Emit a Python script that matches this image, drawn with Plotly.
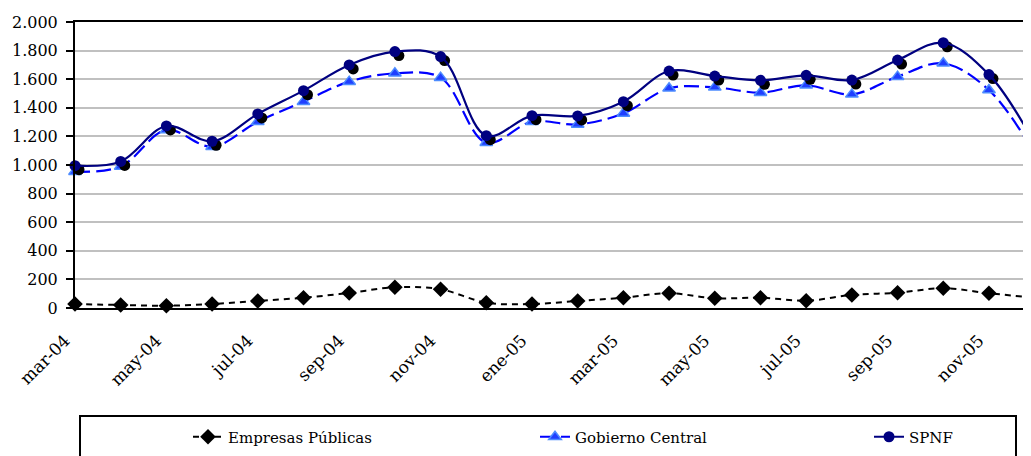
import plotly.graph_objects as go

months = ["mar-04", "abr-04", "may-04", "jun-04", "jul-04", "ago-04", "sep-04",
          "oct-04", "nov-04", "dic-04", "ene-05", "feb-05", "mar-05", "abr-05",
          "may-05", "jun-05", "jul-05", "ago-05", "sep-05", "oct-05", "nov-05", "dic-05"]

empresas_publicas = [28, 21, 16, 28, 49, 72, 105, 145, 131, 37, 28, 49, 72, 103,
                     68, 72, 51, 91, 107, 138, 103, 72]
gobierno_central = [953, 990, 1245, 1128, 1303, 1443, 1583, 1641, 1611, 1156, 1303,
                    1284, 1361, 1536, 1543, 1506, 1557, 1494, 1618, 1711, 1524, 1080]
spnf = [995, 1025, 1273, 1166, 1357, 1520, 1700, 1793, 1758, 1205, 1345, 1343,
        1443, 1657, 1622, 1592, 1627, 1594, 1734, 1855, 1632, 1150]

tick_labels = months[::2][:11]
y_ticks = list(range(0, 2001, 200))

# page offset (body margin) in the browser
OFF = 8
W, H = 1031, 456
ML, MR, MT, MB = 75 - OFF, OFF, 22 - OFF, 456 - 308 + OFF
pw = W - ML - MR
ph = H - MT - MB
x_max = 20.92
y_max = 2000
px_per_x = pw / x_max
px_per_y = ph / y_max
shadow_dx = 4 / px_per_x
shadow_dy = 4 / px_per_y

FONT = "DejaVu Serif"


def px_x(p):
    # screen pixel -> paper x
    return (p - OFF - ML) / pw


def px_y(p):
    # screen pixel -> paper y
    return (MT + ph - (p - OFF)) / ph


fig = go.Figure()

fig.add_trace(go.Scatter(
    x=months, y=empresas_publicas, name="Empresas Públicas", mode="lines+markers",
    line=dict(color="black", width=2, dash="6px,5px", shape="spline", smoothing=1),
    marker=dict(symbol="diamond", size=12, color="black"),
    cliponaxis=False, xaxis="x", yaxis="y", legend="legend"))

fig.add_trace(go.Scatter(
    x=months, y=gobierno_central, name="Gobierno Central", mode="lines+markers",
    line=dict(color="#0000ff", width=2.2, dash="15px,6px", shape="spline", smoothing=1),
    marker=dict(symbol="triangle-up", size=11, color="#1f3fff",
                line=dict(color="#4d8cff", width=1.5)),
    cliponaxis=False, xaxis="x", yaxis="y", legend="legend2"))

# shadow of SPNF markers
fig.add_trace(go.Scatter(
    x=months, y=spnf, mode="markers", showlegend=False, hoverinfo="skip",
    marker=dict(symbol="circle", size=11, color="black"),
    cliponaxis=False, xaxis="x2", yaxis="y2"))

fig.add_trace(go.Scatter(
    x=months, y=spnf, name="SPNF", mode="lines+markers",
    line=dict(color="#000080", width=2.2, shape="spline", smoothing=1),
    marker=dict(symbol="circle", size=11, color="#000080"),
    cliponaxis=False, xaxis="x3", yaxis="y3", legend="legend3"))

legend_common = dict(orientation="h", xanchor="left", yanchor="middle",
                     font=dict(family=FONT, size=15, color="black"),
                     bgcolor="rgba(0,0,0,0)", borderwidth=0)

fig.update_layout(
    width=W, height=H,
    margin=dict(l=ML, r=MR, t=MT, b=MB, pad=0, autoexpand=False),
    paper_bgcolor="white", plot_bgcolor="white",
    separators=",.",
    font=dict(family=FONT, size=16, color="black"),
    showlegend=True,
    legend=dict(x=px_x(188), y=px_y(437), **legend_common),
    legend2=dict(x=px_x(535), y=px_y(437), **legend_common),
    legend3=dict(x=px_x(869), y=px_y(437), **legend_common),
    xaxis=dict(type="category", categoryorder="array", categoryarray=months,
               range=[0, x_max], tickmode="array", tickvals=tick_labels,
               ticktext=tick_labels, tickangle=-45, ticks="outside", ticklen=14,
               tickcolor="rgba(0,0,0,0)", automargin=False,
               ticklabelshift=-10,
               showgrid=False, zeroline=False, showline=True, linecolor="black",
               linewidth=2, mirror=True, tickfont=dict(family=FONT, size=17)),
    yaxis=dict(range=[0, y_max], tickmode="array", tickvals=y_ticks, tickformat=",d",
               ticks="outside", ticklen=7, tickwidth=2, tickcolor="black",
               automargin=False, ticklabelstandoff=5,
               showgrid=True, gridcolor="#c0c0c0", gridwidth=2, zeroline=False,
               showline=True, linecolor="black", linewidth=2,
               tickfont=dict(family=FONT, size=16)),
    xaxis2=dict(type="category", categoryorder="array", categoryarray=months,
                overlaying="x", range=[-shadow_dx, x_max - shadow_dx], visible=False),
    yaxis2=dict(overlaying="y", range=[shadow_dy, y_max + shadow_dy], visible=False),
    xaxis3=dict(type="category", categoryorder="array", categoryarray=months,
                overlaying="x", range=[0, x_max], visible=False),
    yaxis3=dict(overlaying="y", range=[0, y_max], visible=False),
    shapes=[dict(type="rect", xref="paper", yref="paper",
                 x0=px_x(80), x1=px_x(1016),
                 y0=px_y(416), y1=px_y(480),
                 line=dict(color="black", width=2), fillcolor="rgba(0,0,0,0)")],
)

fig.write_html("out.html")
